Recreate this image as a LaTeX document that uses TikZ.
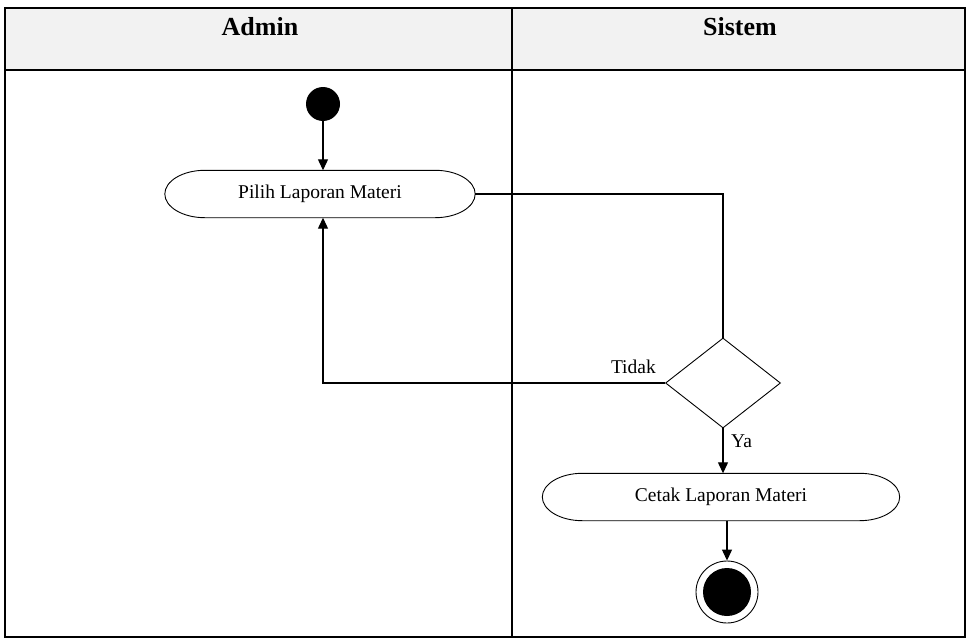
\documentclass[tikz,border=0pt]{standalone}
\usepackage{fontspec}
\setmainfont{Liberation Serif}
\usetikzlibrary{shapes.geometric,arrows.meta}
\newcommand\capsule[1]{%
  \draw[line width=0.9pt,fill=white]
    ([xshift=40pt]#1.north west) -- ([xshift=-40pt]#1.north east)
    .. controls ([xshift=-17.9pt]#1.north east) and ([yshift=13pt]#1.east) .. (#1.east)
    .. controls ([yshift=-13pt]#1.east) and ([xshift=-17.9pt]#1.south east) .. ([xshift=-40pt]#1.south east)
    -- ([xshift=40pt]#1.south west)
    .. controls ([xshift=17.9pt]#1.south west) and ([yshift=-13pt]#1.west) .. (#1.west)
    .. controls ([yshift=13pt]#1.west) and ([xshift=17.9pt]#1.north west) .. ([xshift=40pt]#1.north west)
    -- cycle;}
\begin{document}
\begin{tikzpicture}[x=1pt,y=-1pt,
  lane/.style={draw=black,line width=1.8pt},
  act/.style={rectangle,minimum height=47pt,font=\fontsize{19.5}{22}\selectfont,inner sep=0pt},
  flow/.style={draw=black,line width=1.2pt},
  arr/.style={flow,-{Triangle[length=11pt,width=10pt]}},
  head/.style={font=\bfseries\fontsize{26}{28}\selectfont},
  lbl/.style={font=\fontsize{19.5}{22}\selectfont,inner sep=0pt}]
\useasboundingbox (0,0) rectangle (966,642);
% header
\fill[gray!10] (5,8) rectangle (965,70);
\draw[lane] (5,8) rectangle (965,637);
\draw[lane] (5,70) -- (965,70);
\draw[lane] (512,8) -- (512,637);
\node[head] (hA) at (260,27) {Admin};
\node[head] (hS) at (740,27) {Sistem};
% nodes
\node[circle,fill=black,minimum size=34pt,inner sep=0pt] (start) at (323,104) {};
\node[act,minimum width=310pt] (pilih) at (320,194) {};
\capsule{pilih}
\node[act] at (pilih.center) {Pilih Laporan Materi};
\node[diamond,draw=black,line width=0.9pt,minimum width=115pt,minimum height=90pt,inner sep=0pt] (dec) at (723,383) {};
\node[act,minimum width=357pt] (cetak) at (721,497) {};
\capsule{cetak}
\node[act] at (cetak.center) {Cetak Laporan Materi};
\node[circle,draw=black,line width=0.9pt,minimum size=62pt,inner sep=0pt] (endo) at (727,592) {};
\node[circle,fill=black,minimum size=48pt,inner sep=0pt] (endi) at (727,592) {};
% connectors
\draw[arr] (start.south) -- (pilih.north -| start.south);
\draw[flow] (pilih.east) -| (dec.north);
\coordinate (bend) at (323,383);
\draw[arr] (dec.west) -- (bend) -- (pilih.south -| bend);
\draw[arr] (dec.south) -- (cetak.north -| dec.south);
\draw[arr] (cetak.south -| endo.north) -- (endo.north);
\node[lbl,anchor=east] (ltidak) at (656,367) {Tidak};
\node[lbl,anchor=west] (lya) at (731,441) {Ya};
\end{tikzpicture}
\end{document}
